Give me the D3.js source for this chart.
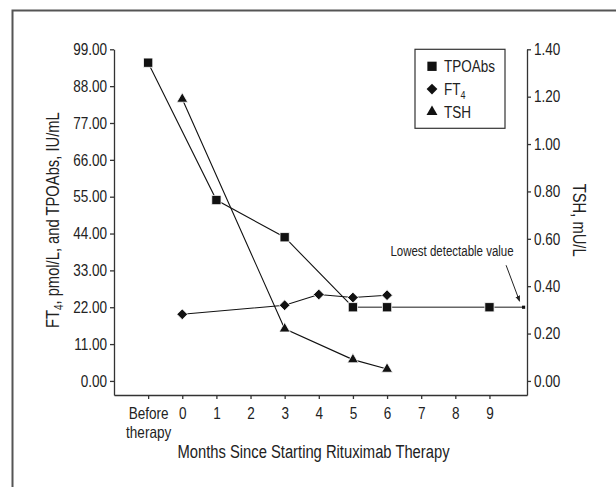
<!DOCTYPE html>
<html lang="en">
<head>
    <meta charset="UTF-8">
    <title>Rituximab Therapy</title>
    <script src="https://d3js.org/d3.v7.min.js"></script>
    <style>
        body { margin: 0; background: #fff; }
        svg text { font-family: "Liberation Sans", Arial, sans-serif; fill: #222; }
        .axis path, .axis line { stroke: #333; stroke-width: 1.3; }
        .axis text { font-size: 16.5px; fill: #222; }
    </style>
</head>
<body>
    <div id="chart-container"></div>
    <script>
        // x categories (tick labels)
        const months = ["Before therapy", "0", "1", "2", "3", "4", "5", "6", "7", "8", "9"];

        // TPOAbs, IU/mL (left axis)
        const tpoMonths = ["Before therapy", "1", "3", "5", "6", "9"];
        const tpoValues = [95.0, 54.0, 42.9, 22.0, 22.0, 22.0];
        const lowestDetectable = 22.0;

        // FT4, pmol/L (left axis)
        const ft4Months = ["0", "3", "4", "5", "6"];
        const ft4Values = [19.9, 22.6, 25.8, 24.9, 25.6];

        // TSH, mU/L (right axis)
        const tshMonths = ["0", "3", "5", "6"];
        const tshValues = [1.19, 0.22, 0.09, 0.05];

        const leftTicks = [0, 11, 22, 33, 44, 55, 66, 77, 88, 99];
        const rightTicks = [0, 0.2, 0.4, 0.6, 0.8, 1.0, 1.2, 1.4];

        const containerWidth = 616;
        const containerHeight = 487;
        const margins = { top: 49.3, right: 89, bottom: 92, left: 114 };
        const width = containerWidth - margins.left - margins.right;
        const height = containerHeight - margins.top - margins.bottom;

        // squeeze text horizontally so it looks like a narrow face
        function narrow(sel) {
            sel.each(function() {
                const w = this.getComputedTextLength();
                d3.select(this)
                    .attr("textLength", w * 0.82)
                    .attr("lengthAdjust", "spacingAndGlyphs");
            });
        }

        const root = d3.select("#chart-container")
            .append("svg")
            .attr("width", containerWidth)
            .attr("height", containerHeight);

        // outer frame (runs off the right and bottom of the picture)
        root.append("rect")
            .attr("x", 12.5)
            .attr("y", 10.5)
            .attr("width", 700)
            .attr("height", 600)
            .attr("fill", "none")
            .attr("stroke", "#555")
            .attr("stroke-width", 2);

        const svg = root.append("g")
            .attr("transform", `translate(${margins.left},${margins.top})`);

        // position of a month label: "Before therapy" -> -1, "0" -> 0 ...
        const pos = m => m === "lowest" ? 10 : months.indexOf(m) - 1;

        const x = d3.scaleLinear()
            .domain([-2, 10.1])
            .range([0, width]);

        // the zero sits a little above the x axis line
        const yLeft = d3.scaleLinear()
            .domain([-4.2, 99])
            .range([height, 0]);

        const yRight = d3.scaleLinear()
            .domain([-4.2 * 1.4 / 99, 1.4])
            .range([height, 0]);

        // axes
        const xAxis = svg.append("g")
            .attr("class", "axis axis-x")
            .attr("transform", `translate(0, ${height})`)
            .call(d3.axisBottom(x)
                .tickValues(months.map(pos))
                .tickFormat(i => months[i + 1])
                .tickSize(4)
                .tickPadding(8)
                .tickSizeOuter(0));

        // split "Before therapy" into two lines
        xAxis.selectAll(".tick text").each(function() {
            const t = d3.select(this);
            const words = t.text().split(" ");
            if (words.length > 1) {
                t.text(null);
                words.forEach((w, i) => {
                    t.append("tspan")
                        .attr("x", 0)
                        .attr("dy", i === 0 ? "0.71em" : "1.15em")
                        .text(w);
                });
                t.attr("dy", null);
            }
        });
        xAxis.selectAll(".tick text").filter(function() { return !this.querySelector("tspan"); }).call(narrow);
        xAxis.selectAll(".tick tspan").each(function() {
            const w = this.getComputedTextLength();
            d3.select(this).attr("textLength", w * 0.82).attr("lengthAdjust", "spacingAndGlyphs");
        });

        svg.append("g")
            .attr("class", "axis axis-y")
            .call(d3.axisLeft(yLeft)
                .tickValues(leftTicks)
                .tickFormat(d3.format(".2f"))
                .tickSize(4)
                .tickPadding(3)
                .tickSizeOuter(0))
            .selectAll("text").call(narrow);

        svg.append("g")
            .attr("class", "axis axis-y2")
            .attr("transform", `translate(${width}, 0)`)
            .call(d3.axisRight(yRight)
                .tickValues(rightTicks)
                .tickFormat(d3.format(".2f"))
                .tickSize(4)
                .tickPadding(3)
                .tickSizeOuter(0))
            .selectAll("text").call(narrow);

        // axis labels
        svg.append("text")
            .attr("x", width / 2 - 7)
            .attr("y", 409)
            .attr("text-anchor", "middle")
            .style("font-size", "18px")
            .text("Months Since Starting Rituximab Therapy")
            .call(narrow);

        const leftLabel = svg.append("text")
            .attr("transform", `translate(-55, ${height / 2 - 2}) rotate(-90) scale(0.82, 1)`)
            .attr("text-anchor", "middle")
            .style("font-size", "18px");
        leftLabel.append("tspan").text("FT");
        leftLabel.append("tspan").attr("dy", 4).style("font-size", "12px").text("4");
        leftLabel.append("tspan").attr("dy", -4).text(", pmol/L, and TPOAbs, IU/mL");

        svg.append("text")
            .attr("transform", `translate(${width + 46}, ${height / 2 - 2}) rotate(90)`)
            .attr("text-anchor", "middle")
            .style("font-size", "18px")
            .text("TSH, mU/L")
            .call(narrow);

        // data lines
        const tpoData = tpoMonths.map((m, i) => ({ m: m, v: tpoValues[i] }));
        const ft4Data = ft4Months.map((m, i) => ({ m: m, v: ft4Values[i] }));
        const tshData = tshMonths.map((m, i) => ({ m: m, v: tshValues[i] }));

        const lineLeft = d3.line().x(d => x(pos(d.m))).y(d => yLeft(d.v));
        const lineRight = d3.line().x(d => x(pos(d.m))).y(d => yRight(d.v));

        // detection-limit stretch drawn in grey
        const limitData = tpoData.filter(d => pos(d.m) >= 5)
            .concat([{ m: "lowest", v: lowestDetectable }]);

        svg.append("path")
            .attr("d", lineLeft(limitData))
            .attr("fill", "none")
            .attr("stroke", "#666")
            .attr("stroke-width", 1.5);

        svg.append("path")
            .attr("d", lineLeft(tpoData.filter(d => pos(d.m) <= 5)))
            .attr("fill", "none")
            .attr("stroke", "#111")
            .attr("stroke-width", 1.1);

        svg.append("path")
            .attr("d", lineLeft(ft4Data))
            .attr("fill", "none")
            .attr("stroke", "#111")
            .attr("stroke-width", 1.1);

        svg.append("path")
            .attr("d", lineRight(tshData))
            .attr("fill", "none")
            .attr("stroke", "#111")
            .attr("stroke-width", 1.1);

        // markers
        const square = d3.symbol().type(d3.symbolSquare).size(86);
        const diamond = d3.symbol().type(d3.symbolSquare).size(58);
        const triangle = d3.symbol().type(d3.symbolTriangle).size(52);

        svg.selectAll(".tpo")
            .data(tpoData)
            .enter()
            .append("path")
            .attr("class", "tpo")
            .attr("d", square)
            .attr("transform", d => `translate(${x(pos(d.m))},${yLeft(d.v)})`)
            .attr("fill", "#111")
            .attr("stroke", "#fff")
            .attr("stroke-width", 0.8);

        svg.append("path")
            .attr("d", d3.symbol().type(d3.symbolSquare).size(10)())
            .attr("transform", `translate(${x(pos("lowest"))},${yLeft(lowestDetectable)})`)
            .attr("fill", "#111");

        svg.selectAll(".ft4")
            .data(ft4Data)
            .enter()
            .append("path")
            .attr("class", "ft4")
            .attr("d", diamond)
            .attr("transform", d => `translate(${x(pos(d.m))},${yLeft(d.v)}) rotate(45)`)
            .attr("fill", "#111")
            .attr("stroke", "#fff")
            .attr("stroke-width", 0.8);

        svg.selectAll(".tsh")
            .data(tshData)
            .enter()
            .append("path")
            .attr("class", "tsh")
            .attr("d", triangle)
            .attr("transform", d => `translate(${x(pos(d.m))},${yRight(d.v)})`)
            .attr("fill", "#111")
            .attr("stroke", "#fff")
            .attr("stroke-width", 0.8);

        // annotation for the lowest detectable value
        root.append("defs").append("marker")
            .attr("id", "arrow")
            .attr("viewBox", "0 0 10 10")
            .attr("refX", 9)
            .attr("refY", 5)
            .attr("markerWidth", 6)
            .attr("markerHeight", 6)
            .attr("orient", "auto")
            .append("path")
            .attr("d", "M0,1 L10,5 L0,9 Z")
            .attr("fill", "#222");

        const lx = x(pos("lowest"));
        const ly = yLeft(lowestDetectable);
        svg.append("line")
            .attr("x1", lx - 17.5)
            .attr("y1", ly - 42)
            .attr("x2", lx - 4)
            .attr("y2", ly - 6)
            .attr("stroke", "#222")
            .attr("stroke-width", 1)
            .attr("marker-end", "url(#arrow)");

        svg.append("text")
            .attr("x", lx - 10)
            .attr("y", ly - 51)
            .attr("text-anchor", "end")
            .style("font-size", "14px")
            .text("Lowest detectable value")
            .call(narrow);

        // legend
        const legend = svg.append("g")
            .attr("transform", `translate(${301}, 0)`);

        legend.append("rect")
            .attr("width", 90)
            .attr("height", 79)
            .attr("fill", "#fff")
            .attr("stroke", "#333")
            .attr("stroke-width", 1.2);

        const legendItems = [
            { sym: square, rot: 0, label: "TPOAbs" },
            { sym: diamond, rot: 45, label: "FT", sub: "4" },
            { sym: triangle, rot: 0, label: "TSH" }
        ];

        legendItems.forEach((d, i) => {
            const gy = 17 + i * 22.8;
            legend.append("path")
                .attr("d", d.sym)
                .attr("transform", `translate(17, ${gy}) rotate(${d.rot})`)
                .attr("fill", "#111");
            // narrow look via a horizontal scale, so the subscript follows naturally
            const t = legend.append("text")
                .attr("transform", `translate(29, ${gy + 6}) scale(0.82, 1)`)
                .style("font-size", "16.5px")
                .text(d.label);
            if (d.sub) {
                t.append("tspan").attr("dy", 4).style("font-size", "11px").text(d.sub);
            }
        });
    </script>
</body>
</html>
